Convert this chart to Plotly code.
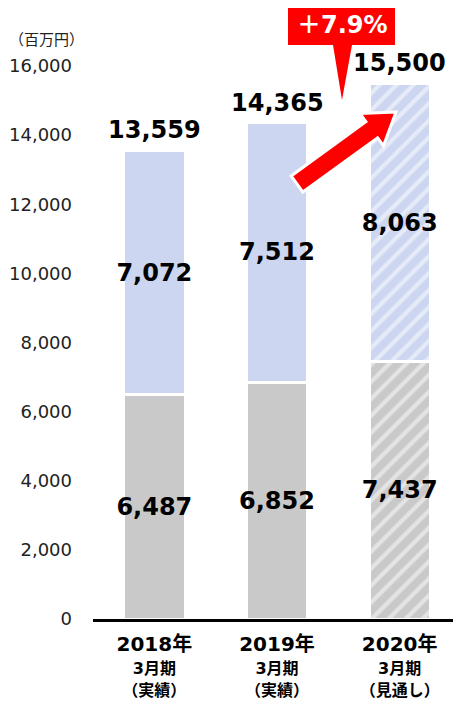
import math

import plotly.graph_objects as go

# data
categories = ["2018年3月期（実績）", "2019年3月期（実績）", "2020年3月期（見通し）"]
tick_years = ["2018年", "2019年", "2020年"]
tick_sub = ["3月期", "3月期", "3月期"]
tick_kind = ["（実績）", "（実績）", "（見通し）"]
lower_values = [6487, 6852, 7437]
upper_values = [7072, 7512, 8063]
total_labels = [13559, 14365, 15500]
growth_label = "＋7.9%"
unit_label = "（百万円）"
y_ticks = [0, 2000, 4000, 6000, 8000, 10000, 12000, 14000, 16000]

FONT = "DejaVu Sans, Noto Sans CJK JP, sans-serif"
GRAY = "#C9C9C9"
BLUE = "#CCD6F1"
RED = "#FF0000"

# the page body has an 8px margin, so the figure starts at (8, 8)
OFF = 8
W, H = 461 - OFF, 706 - OFF
L, R, T, B = 93 - OFF, 0, 66 - OFF, 706 - 619
pw, ph = W - L - R, H - T - B


def px_to_paper(x, y):
    # pixel position on the page -> paper coords
    return (x - OFF - L) / pw, (H - B - (y - OFF)) / ph


hatch = ["", "", "/"]

fig = go.Figure()
fig.add_bar(
    x=categories, y=lower_values,
    marker=dict(color=GRAY, line=dict(color="white", width=3),
                pattern=dict(shape=hatch, fgcolor="white", size=12, solidity=0.35)),
    texttemplate="<b>%{y:,}</b>", textposition="inside", insidetextanchor="middle",
    textangle=0, constraintext="none",
    textfont=dict(family=FONT, size=24, color="black"),
    hoverinfo="skip",
)
fig.add_bar(
    x=categories, y=upper_values,
    marker=dict(color=BLUE, line=dict(color="white", width=3),
                pattern=dict(shape=hatch, fgcolor="white", size=12, solidity=0.35)),
    texttemplate="<b>%{y:,}</b>", textposition="inside", insidetextanchor="middle",
    textangle=0, constraintext="none",
    textfont=dict(family=FONT, size=24, color="black"),
    hoverinfo="skip",
)

# totals above bars
for cat, tot in zip(categories, total_labels):
    fig.add_annotation(x=cat, y=tot, text=f"<b>{tot:,}</b>", showarrow=False,
                       yanchor="bottom", yshift=4,
                       font=dict(family=FONT, size=24, color="black"))

# unit label
ux, uy = px_to_paper(8, 40)
fig.add_annotation(x=ux, y=uy, xref="paper", yref="paper", text=unit_label,
                   showarrow=False, xanchor="left", yanchor="middle", borderpad=0,
                   font=dict(family=FONT, size=15, color="#222"))

# big red arrow (tail -> tip, pixels)
tail, tip = (297, 184), (396, 112)
dx, dy = tip[0] - tail[0], tip[1] - tail[1]
ln = math.hypot(dx, dy)
ux_, uy_ = dx / ln, dy / ln
nx, ny = -uy_, ux_
shaft, head_w, head_l = 10, 20, 30
bx, by = tip[0] - ux_ * head_l, tip[1] - uy_ * head_l
pts = [
    (tail[0] + nx * shaft, tail[1] + ny * shaft),
    (bx + nx * shaft, by + ny * shaft),
    (bx + nx * head_w, by + ny * head_w),
    tip,
    (bx - nx * head_w, by - ny * head_w),
    (bx - nx * shaft, by - ny * shaft),
    (tail[0] - nx * shaft, tail[1] - ny * shaft),
]
path = "M " + " L ".join(f"{px_to_paper(*p)[0]:.4f},{px_to_paper(*p)[1]:.4f}" for p in pts) + " Z"
fig.add_shape(type="path", path=path, xref="paper", yref="paper",
              fillcolor=RED, line=dict(color="white", width=3), layer="above")

# callout box with pointer
box = [(288, 5), (395, 5), (395, 45), (352, 45), (342, 100), (333, 45), (288, 45)]
path = "M " + " L ".join(f"{px_to_paper(*p)[0]:.4f},{px_to_paper(*p)[1]:.4f}" for p in box) + " Z"
fig.add_shape(type="path", path=path, xref="paper", yref="paper",
              fillcolor=RED, line=dict(width=0), layer="above")
cx, cy = px_to_paper(342, 25)
fig.add_annotation(x=cx, y=cy, xref="paper", yref="paper", text=f"<b>{growth_label}</b>",
                   showarrow=False, xanchor="center", yanchor="middle",
                   font=dict(family=FONT, size=24, color="white"))

ticktext = [
    f"<b><span style='font-size:20px'>{a}</span><br>"
    f"<span style='font-size:16px'>{b}</span><br>"
    f"<span style='font-size:16px'>{c}</span></b>"
    for a, b, c in zip(tick_years, tick_sub, tick_kind)
]

fig.update_layout(
    width=W, height=H,
    margin=dict(l=L, r=R, t=T, b=B, autoexpand=False),
    barmode="stack", bargap=0.5,
    showlegend=False,
    plot_bgcolor="white", paper_bgcolor="white",
    font=dict(family=FONT, color="#222"),
    xaxis=dict(
        tickvals=categories, ticktext=ticktext, range=[-0.5, 2.5],
        showline=True, linecolor="black", linewidth=3,
        ticks="", showgrid=False, automargin=False,
        ticklabelstandoff=9,
        tickfont=dict(family=FONT, size=17, color="black"),
    ),
    yaxis=dict(
        range=[0, 16000], tickvals=y_ticks, tickformat=",",
        showgrid=False, zeroline=False, showline=False, ticks="",
        ticklabelstandoff=20, automargin=False,
        tickfont=dict(family=FONT, size=18, color="#222"),
    ),
)

fig.write_html("out.html")
